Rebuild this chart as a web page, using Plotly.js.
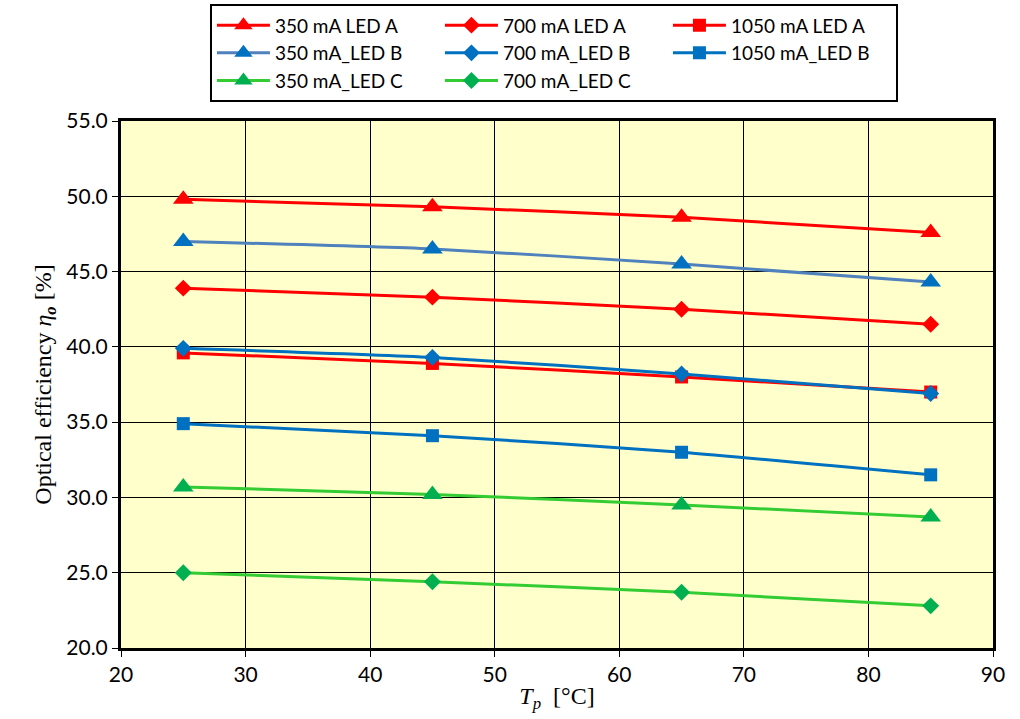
<!DOCTYPE html>
<html>
<head>
<meta charset="utf-8">
<script src="https://cdn.plot.ly/plotly-3.0.1.min.js"></script>
<style>
  body { margin: 0; background: #fff; }
  #graph { width: 1020px; height: 719px; }
</style>
</head>
<body>
<div id="graph"></div>
<script>
// DATA
var temps = [25, 45, 65, 85];

var led_a_350 = [49.8, 49.3, 48.6, 47.6];
var led_a_700 = [43.9, 43.3, 42.5, 41.5];
var led_a_1050 = [39.6, 38.9, 38.0, 37.0];
var led_b_350 = [47.0, 46.5, 45.5, 44.3];
var led_b_700 = [39.9, 39.3, 38.2, 36.9];
var led_b_1050 = [34.9, 34.1, 33.0, 31.5];
var led_c_350 = [30.7, 30.2, 29.5, 28.7];
var led_c_700 = [25.0, 24.4, 23.7, 22.8];

var xTicks = [20, 30, 40, 50, 60, 70, 80, 90];
var yTicks = [20, 25, 30, 35, 40, 45, 50, 55];

// HELPER
function series(name, y, lineColor, markerColor, symbol, size){
	return {
		x: temps, y: y,
		name: name,
		mode: 'lines+markers',
		type: 'scatter',
		line: {color: lineColor, width: 3, shape: 'spline', smoothing: 0.6},
		marker: {color: markerColor, symbol: symbol, size: size}
	};
}

var red = '#FF0000', blue = '#0070C0', steel = '#4F81BD';
var green = '#00B050', lime = '#33CC33';

var graph = [
	series('350 mA LED A', led_a_350, red, red, 'triangle-up', 18),
	series('700 mA LED A', led_a_700, red, red, 'diamond', 13),
	series('1050 mA LED A', led_a_1050, red, red, 'square', 13),
	series('350 mA_LED B', led_b_350, steel, blue, 'triangle-up', 18),
	series('700 mA_LED B', led_b_700, blue, blue, 'diamond', 13),
	series('1050 mA_LED B', led_b_1050, blue, blue, 'square', 13),
	series('350 mA_LED C', led_c_350, lime, green, 'triangle-up', 18),
	series('700 mA_LED C', led_c_700, lime, green, 'diamond', 13)
];

var tickFont = {family: 'Lato, "Noto Sans", sans-serif', size: 21, color: '#000'};
var legendFont = {family: 'Lato, "Noto Sans", sans-serif', size: 19, color: '#000'};
var titleFont = {family: '"Liberation Serif", "Times New Roman", serif', size: 24, color: '#000'};

var layout = {
	width: 1020, height: 719,
	margin: {l: 121, r: 27, t: 121, b: 71},
	paper_bgcolor: '#fff',
	plot_bgcolor: '#FFFFCC',
	showlegend: true,
	legend: {
		orientation: 'h',
		x: 0.102, xanchor: 'left',
		yref: 'container',
		y: 0.994, yanchor: 'top',
		entrywidth: 160, entrywidthmode: 'pixels',
		bgcolor: '#fff',
		bordercolor: '#000', borderwidth: 2,
		font: legendFont,
		tracegroupgap: 0,
		itemwidth: 53
	},
	xaxis: {
		range: [20, 90],
		tickvals: xTicks,
		ticktext: xTicks.map(String),
		ticks: 'outside', ticklen: 6, tickwidth: 1, tickcolor: '#000',
		showgrid: true, gridcolor: '#000', gridwidth: 1,
		showline: true, linecolor: '#000', linewidth: 3, mirror: true,
		zeroline: false,
		tickfont: tickFont,
		title: {text: '<i>T<sub>p</sub></i>  [°C]', font: titleFont, standoff: 2}
	},
	yaxis: {
		range: [20, 55],
		tickvals: yTicks,
		ticktext: yTicks.map(function(v){ return v.toFixed(1); }),
		ticks: 'outside', ticklen: 6, tickwidth: 1, tickcolor: '#000',
		showgrid: true, gridcolor: '#000', gridwidth: 1,
		showline: true, linecolor: '#000', linewidth: 3, mirror: true,
		zeroline: false,
		tickfont: tickFont,
		title: {text: 'Optical efficiency <i>η</i><sub><b><i>o</i></b></sub> [%]', font: titleFont, standoff: 8}
	}
};

Plotly.newPlot('graph', graph, layout, {displayModeBar: false, staticPlot: true});
</script>
</body>
</html>
